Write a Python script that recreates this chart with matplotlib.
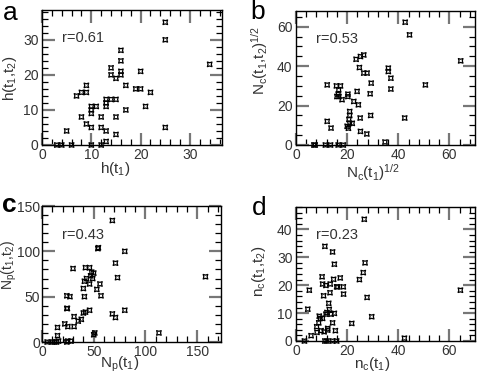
import numpy as np
import matplotlib.pyplot as plt
from matplotlib.ticker import MultipleLocator

plt.rcParams['font.family'] = ['Liberation Sans', 'DejaVu Sans']
plt.rcParams['mathtext.fontset'] = 'custom'
plt.rcParams['mathtext.rm'] = 'Liberation Sans'
plt.rcParams['mathtext.it'] = 'Liberation Sans'

# panel a: h(t1) vs h(t1,t2)
a_x = [25, 25, 34, 16, 16, 14, 14, 15, 16, 16, 20, 17, 19, 20, 22, 9, 8, 9, 7,
       13, 13, 13, 14, 15, 10, 11, 10, 10, 8, 12, 15, 17, 21, 9, 10, 12, 13, 5,
       15, 25, 13, 3, 4, 6, 10, 12]
a_y = [35, 30, 23, 27, 24, 22, 20, 19, 21, 20, 21, 17, 16, 16, 15, 17, 15, 15, 14,
       13, 12, 11, 13, 13, 11, 11, 10, 9, 8, 8, 8, 10, 11, 6, 5, 5, 4, 4,
       3, 5, 1, 0, 0, 0, 0, 0]

# panel b: Nc(t1)^1/2 vs Nc(t1,t2)^1/2
b_x = [42.7, 44.4, 64.4, 50.6, 23.5, 25.2, 26.5, 24.8, 26.5, 27.8, 29.4, 29.0,
       23.9, 22.6, 24.4, 20.3, 20.3, 12.2, 15.8, 17.4, 16.7, 16.5, 16.0, 16.8,
       18.0, 12.2, 13.7, 21.0, 21.0, 20.7, 21.0, 22.0, 20.0, 20.5, 25.1, 29.2,
       25.2, 27.7, 42.5, 36.1, 36.1, 37.1, 37.1, 34.8,
       7.0, 7.5, 11.5, 13.5, 16.5, 18.5]
b_y = [62.3, 55.9, 42.7, 30.5, 43.5, 44.9, 45.7, 39.3, 36.5, 36.5, 31.4, 26.0,
       27.2, 22.1, 20.4, 25.8, 24.6, 30.5, 30.0, 30.0, 28.0, 25.8, 24.6, 24.6,
       23.0, 12.0, 8.6, 17.0, 15.0, 13.0, 11.0, 11.0, 9.5, 8.5, 13.7, 15.0,
       6.9, 5.6, 13.7, 39.0, 37.3, 33.9, 28.4, 1.5,
       0, 0, 0, 0, 0, 0]

# panel c: Np(t1) vs Np(t1,t2)
c_x = [68, 54, 54.5, 80, 71, 73, 158, 30, 42, 46, 48, 50, 47, 49, 43, 41, 46, 56,
       53, 40, 57, 41, 24, 27, 68, 71, 80, 46, 42, 40, 35, 38, 31, 24, 24.5, 22,
       25, 15, 31, 15, 50, 51, 113, 5, 10, 12, 14, 16, 24, 25, 28]
c_y = [134, 103, 104, 100, 87, 71, 72, 81, 82, 82, 77, 76, 73, 70, 70, 67, 64, 64,
       58, 59, 51, 50, 51, 50, 31, 27, 35, 35, 33, 32, 23, 25, 28, 37, 37, 20,
       17, 16, 17, 7, 8, 10, 10, 0, 0, 0, 0, 1, 0, 1, 1]

# panel d: nc(t1) vs nc(t1,t2)
d_x = [26.7, 11.3, 14.3, 15.0, 27.0, 26.3, 24.8, 10.2, 14.7, 17.3, 10.4, 11.7,
       13.4, 15.9, 16.3, 18.5, 18.6, 13.3, 10.8, 5.2, 27.8, 64.3, 4.6, 12.8,
       13.0, 12.1, 11.7, 13.7, 15.0, 9.1, 9.5, 10.4, 8.9, 8.1, 14.3, 15.4, 12.4,
       12.4, 11.0, 9.8, 8.2, 5.9, 21.8, 29.6, 42.4, 3.3, 11.3, 12.1, 14.3, 15.9]
d_y = [43.6, 33.9, 31.9, 27.5, 28.0, 24.5, 22.0, 23.0, 22.1, 22.6, 20.4, 19.9,
       20.4, 19.4, 19.4, 19.4, 16.8, 17.3, 16.2, 18.2, 15.6, 18.2, 11.4, 13.5,
       11.3, 10.2, 9.6, 9.6, 9.9, 8.9, 8.1, 8.1, 6.5, 5.1, 6.5, 3.7, 4.5,
       3.9, 3.3, 3.7, 3.1, 1.9, 6.3, 8.7, 1.0, 0, 0, 0, 0, 0]

panels = [
    ('a', a_x, a_y, 'r=0.61', r'h(t$_1$)', r'h(t$_1$,t$_2$)',
     (0, 36.5), (0, 38.5), 10, 2, 10, 2),
    ('b', b_x, b_y, 'r=0.53', r'N$_c$(t$_1$)$^{1/2}$', r'N$_c$(t$_1$,t$_2$)$^{1/2}$',
     (0, 70), (0, 68), 20, 4, 20, 5),
    ('c', c_x, c_y, 'r=0.43', r'N$_p$(t$_1$)', r'N$_p$(t$_1$,t$_2$)',
     (0, 173), (0, 150), 50, 10, 50, 10),
    ('d', d_x, d_y, 'r=0.23', r'n$_c$(t$_1$)', r'n$_c$(t$_1$,t$_2$)',
     (0, 70), (0, 48), 20, 4, 10, 2),
]

# axes boxes in pixels: left, top, right, bottom
boxes = [(42, 10, 222, 145), (296, 11, 475, 145),
         (42, 206, 221, 342), (296, 207, 475, 341)]
label_pos = [(3, 1), (250, 0), (2, 193), (252, 196)]
# label centres in pixels: xlabel (x, y), ylabel (x, y)
xlab_c = [(115, 169), (373, 173), (120, 364), (372, 364)]
ylab_c = [(10, 78), (260, 60), (9, 265), (259, 271)]
ylab_size = [11, 11, 10, 11]

W, H = 478, 374
fig = plt.figure(figsize=(W / 100, H / 100), dpi=100)

for i, (name, xs, ys, rtext, xl, yl, xlim, ylim, xmaj, xmin, ymaj, ymin) in enumerate(panels):
    l, t, r, b = boxes[i]
    w, h = r - l, b - t
    ax = fig.add_axes([l / W, 1 - b / H, w / W, h / H])
    ax.scatter(xs, ys, marker=(4, 1, 45), s=22, facecolors='none',
               edgecolors='black', linewidths=0.9, clip_on=False, zorder=3)
    ax.set_xlim(*xlim)
    ax.set_ylim(*ylim)
    ax.xaxis.set_major_locator(MultipleLocator(xmaj))
    ax.xaxis.set_minor_locator(MultipleLocator(xmin))
    ax.yaxis.set_major_locator(MultipleLocator(ymaj))
    ax.yaxis.set_minor_locator(MultipleLocator(ymin))
    ax.tick_params(which='both', direction='in', top=True, right=True,
                   labelsize=10, labelcolor='#333333', pad=2.5)
    ax.tick_params(which='major', length=9, width=1.6, color='#777777')
    ax.tick_params(which='minor', length=4, width=0.9, color='black')
    if name == 'c':
        ax.tick_params(axis='y', which='major', pad=1.5)
    for s in ax.spines.values():
        s.set_linewidth(1.0)
    ax.set_xlabel(xl, fontsize=11, color='#333333', va='center')
    ax.set_ylabel(yl, fontsize=ylab_size[i], color='#333333', va='center')
    xc, yc = xlab_c[i]
    ax.xaxis.set_label_coords((xc - l) / w, (b - yc) / h)
    xc, yc = ylab_c[i]
    ax.yaxis.set_label_coords((xc - l) / w, (b - yc) / h)
    ax.text(0.11, 0.76, rtext, transform=ax.transAxes, fontsize=10.5,
            color='#333333')
    fig.text(label_pos[i][0] / W, 1 - label_pos[i][1] / H, name,
             fontsize=19, va='top', ha='left',
             fontweight='bold' if name == 'c' else 'normal')

fig.savefig('out.png', dpi=100)
